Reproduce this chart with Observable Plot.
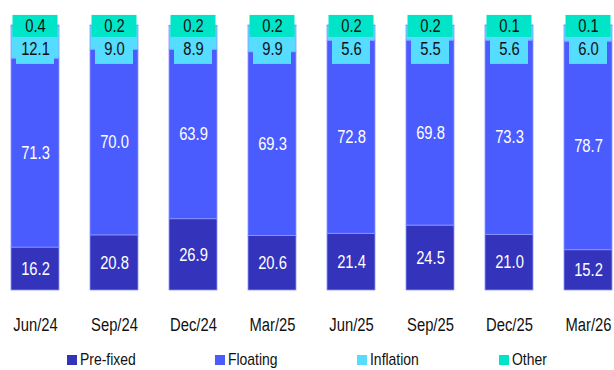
<!DOCTYPE html>
<html>
<head>
<meta charset="utf-8">
<script src="https://cdn.jsdelivr.net/npm/d3@7"></script>
<script src="https://cdn.jsdelivr.net/npm/@observablehq/plot@0.6"></script>
<style>
  html, body { margin: 0; padding: 0; background: #fff; }
  #chart { width: 614px; position: relative; }
  .legend { position: relative; height: 30px; font-family: "Liberation Sans Narrow", "Arial Narrow", "Liberation Sans", Arial, sans-serif; font-size: 17px; color: #111; }
  .legend .item { position: absolute; top: 10px; display: flex; align-items: center; line-height: 20px; }
  .legend .swatch { width: 10px; height: 10px; margin-right: 3px; flex: none; }
  .legend .name { display: inline-block; transform-origin: left center; }
</style>
</head>
<body>
<div id="chart"></div>
<script>
// Composition of the portfolio by indexer, % of total
const categories = ["Jun/24", "Sep/24", "Dec/24", "Mar/25", "Jun/25", "Sep/25", "Dec/25", "Mar/26"];
const seriesNames = ["Pre-fixed", "Floating", "Inflation", "Other"];
const preFixed  = [16.2, 20.8, 26.9, 20.6, 21.4, 24.5, 21.0, 15.2];
const floating  = [71.3, 70.0, 63.9, 69.3, 72.8, 69.8, 73.3, 78.7];
const inflation = [12.1, 9.0, 8.9, 9.9, 5.6, 5.5, 5.6, 6.0];
const other     = [0.4, 0.2, 0.2, 0.2, 0.2, 0.2, 0.1, 0.1];
const colors = ["#3333bb", "#4b5cff", "#55dcff", "#00e5c8"];

const values = [preFixed, floating, inflation, other];

// Stack the series bottom-up within each period
const rows = [];
categories.forEach((category, i) => {
  let base = 0;
  seriesNames.forEach((series, k) => {
    const value = values[k][i];
    rows.push({category, series, value, y1: base, y2: base + value});
    base += value;
  });
});

const fmt = d => d.value.toFixed(1);
const inner = rows.filter(d => d.series === "Pre-fixed" || d.series === "Floating");
const inflRows = rows.filter(d => d.series === "Inflation");
const otherRows = rows.filter(d => d.series === "Other");

// Label anchors near the top of each column (in % units)
const inflLabelY = 91;
const otherLabelY = 99.6;

const font = `"Liberation Sans Narrow", "Arial Narrow", "Liberation Sans", Arial, sans-serif`;
const condense = 0.82; // narrow face look

const chart = Plot.plot({
  width: 614,
  height: 340,
  marginBottom: 50,
  style: {fontFamily: font, fontSize: "18px", color: "#111", background: "#fff"},
  x: {type: "band", domain: categories, range: [10, 613], paddingInner: 0.395, paddingOuter: 0, label: null},
  y: {domain: [0, 100], range: [290, 25], axis: null},
  color: {domain: seriesNames, range: colors},
  marks: [
    Plot.barY(rows, {x: "category", y1: "y1", y2: "y2", fill: "series", stroke: "#8d96ff", strokeWidth: 0.8}),
    Plot.text(inner, {x: "category", y: d => (d.y1 + d.y2) / 2, text: fmt, fill: "white", fontSize: 18}),
    Plot.barY(inflRows, {x: "category", y1: () => inflLabelY - 5.7, y2: () => inflLabelY + 5.7, fill: colors[2], insetLeft: 5, insetRight: 5}),
    Plot.text(inflRows, {x: "category", y: () => inflLabelY, text: fmt, fill: "#111", fontSize: 18}),
    Plot.barY(otherRows, {x: "category", y1: () => 95.5, y2: () => 103.8, fill: colors[3], insetLeft: 1.5, insetRight: 1.5}),
    Plot.text(otherRows, {x: "category", y: () => otherLabelY, text: fmt, fill: "#111", fontSize: 18}),
    Plot.axisX({tickSize: 0, tickPadding: 28, fontSize: 18, label: null})
  ]
});

const root = document.getElementById("chart");
root.appendChild(chart);

// Condense every text horizontally so the lettering reads like a narrow face
chart.querySelectorAll("text").forEach(t => {
  const len = t.getComputedTextLength();
  if (len > 0) {
    t.setAttribute("textLength", (len * condense).toFixed(2));
    t.setAttribute("lengthAdjust", "spacingAndGlyphs");
  }
});

// Legend below the plot
const legend = document.createElement("div");
legend.className = "legend";
const legendX = [67, 215, 357, 499];
seriesNames.forEach((name, k) => {
  const item = document.createElement("div");
  item.className = "item";
  item.style.left = legendX[k] + "px";
  const sw = document.createElement("span");
  sw.className = "swatch";
  sw.style.background = colors[k];
  const label = document.createElement("span");
  label.className = "name";
  label.style.transform = `scaleX(${condense})`;
  label.textContent = name;
  item.appendChild(sw);
  item.appendChild(label);
  legend.appendChild(item);
});
root.appendChild(legend);
</script>
</body>
</html>
